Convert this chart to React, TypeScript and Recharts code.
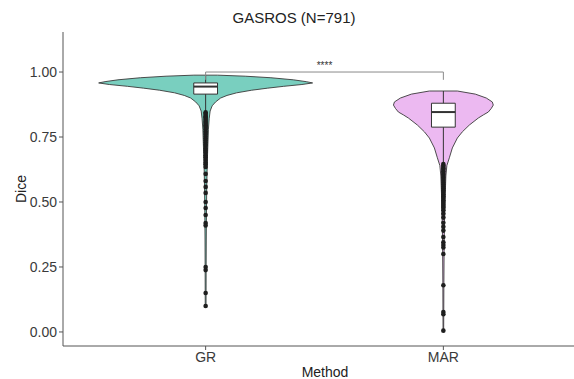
import { ScatterChart, Scatter, XAxis, YAxis } from 'recharts'

const methods = ['GR', 'MAR']
const yTicks = [0, 0.25, 0.5, 0.75, 1]

// violin outlines: Dice level and relative density (1 = widest point)
const grLevels = [0.988, 0.984, 0.978, 0.97, 0.963, 0.958, 0.952, 0.945, 0.938, 0.93, 0.92, 0.91, 0.9, 0.885, 0.87, 0.85, 0.82, 0.78, 0.72, 0.65, 0.55, 0.45, 0.35, 0.25, 0.1]
const grDensity = [0.11, 0.37, 0.61, 0.82, 0.94, 1, 0.9, 0.73, 0.58, 0.43, 0.29, 0.2, 0.14, 0.093, 0.061, 0.042, 0.033, 0.026, 0.021, 0.015, 0.01, 0.0075, 0.0056, 0.0047, 0.0037]
const marLevels = [0.927, 0.915, 0.9, 0.885, 0.873, 0.86, 0.846, 0.835, 0.823, 0.796, 0.77, 0.746, 0.708, 0.67, 0.64, 0.6, 0.5, 0.4, 0.3, 0.18, 0.07, 0.005]
const marDensity = [0.28, 0.64, 0.86, 0.98, 1, 0.96, 0.9, 0.8, 0.7, 0.52, 0.38, 0.28, 0.18, 0.12, 0.07, 0.05, 0.032, 0.02, 0.014, 0.01, 0.008, 0.006]

// box stats: lower whisker, q1, median, q3, upper whisker
const grBox = [0.85, 0.915, 0.944, 0.958, 0.988]
const marBox = [0.65, 0.788, 0.846, 0.88, 0.927]

const grOutliers = [0.845, 0.84, 0.835, 0.83, 0.826, 0.82, 0.815, 0.81, 0.805, 0.8, 0.795, 0.79, 0.785, 0.78, 0.772, 0.765, 0.76, 0.752, 0.745, 0.738, 0.73, 0.722, 0.715, 0.706, 0.698, 0.69, 0.68, 0.672, 0.662, 0.652, 0.645, 0.635, 0.608, 0.581, 0.558, 0.535, 0.5, 0.477, 0.45, 0.419, 0.41, 0.25, 0.238, 0.15, 0.1]
const marOutliers = [0.646, 0.64, 0.635, 0.63, 0.624, 0.618, 0.612, 0.606, 0.6, 0.594, 0.588, 0.582, 0.575, 0.568, 0.56, 0.553, 0.545, 0.538, 0.53, 0.522, 0.515, 0.507, 0.5, 0.492, 0.485, 0.478, 0.468, 0.455, 0.44, 0.42, 0.405, 0.39, 0.365, 0.345, 0.335, 0.325, 0.3, 0.18, 0.077, 0.068, 0.005]

const FONT = '"Liberation Sans", Arial, Helvetica, sans-serif'
const BOX_HALF = 0.05

function violin(center: number, levels: number[], density: number[], maxHalf: number) {
  const right = levels.map((y, i) => ({ x: center + density[i] * maxHalf, y })).reverse()
  const left = levels.map((y, i) => ({ x: center - density[i] * maxHalf, y }))
  return [...right, ...left]
}

function boxRect(center: number, stats: number[]) {
  const [, q1, , q3] = stats
  return [
    { x: center - BOX_HALF, y: q1 },
    { x: center + BOX_HALF, y: q1 },
    { x: center + BOX_HALF, y: q3 },
    { x: center - BOX_HALF, y: q3 },
    { x: center - BOX_HALF, y: q1 },
  ]
}

const none = () => <g />
const dot = (p: any) => <circle cx={p.cx} cy={p.cy} r={2.3} fill="#1e1e1e" />

export default function App() {
  const groups = [
    { c: 1, levels: grLevels, density: grDensity, half: 0.45, box: grBox, out: grOutliers, fill: '#79cfbf' },
    { c: 2, levels: marLevels, density: marDensity, half: 0.21, box: marBox, out: marOutliers, fill: '#ecb9f1' },
  ]
  return (
    <div style={{ position: 'absolute', left: 0, top: 0, width: 574, height: 379, overflow: 'hidden', background: '#fff', fontFamily: FONT }}>
      <div style={{ position: 'absolute', left: 294, top: 17, transform: 'translate(-50%, -50%)', fontSize: 15, color: '#222', whiteSpace: 'nowrap' }}>
        GASROS (N=791)
      </div>
      <ScatterChart width={586} height={379} margin={{ top: 32, right: 0, bottom: 0, left: 0 }}>
        <XAxis
          type="number"
          dataKey="x"
          domain={[0.4, 2.6]}
          ticks={[1, 2]}
          allowDataOverflow
          tickFormatter={v => methods[v - 1]}
          height={33}
          tickSize={4}
          axisLine={{ stroke: '#555' }}
          tickLine={{ stroke: '#555' }}
          tick={{ fontSize: 14, fill: '#3a3a3a', fontFamily: FONT }}
        />
        <YAxis
          type="number"
          dataKey="y"
          domain={[-0.054, 1.154]}
          ticks={yTicks}
          allowDataOverflow
          tickFormatter={v => v.toFixed(2)}
          width={63}
          tickSize={4}
          axisLine={{ stroke: '#555' }}
          tickLine={{ stroke: '#555' }}
          tick={{ fontSize: 14, fill: '#3a3a3a', fontFamily: FONT }}
        />
        {groups.map(g => (
          <Scatter
            key={`v${g.c}`}
            data={violin(g.c, g.levels, g.density, g.half)}
            shape={none}
            line={{ stroke: '#3a3a3a', strokeWidth: 0.9, fill: g.fill }}
            isAnimationActive={false}
          />
        ))}
        {groups.map(g => (
          <Scatter
            key={`w${g.c}`}
            data={[{ x: g.c, y: g.box[0] }, { x: g.c, y: g.box[4] }]}
            shape={none}
            line={{ stroke: '#333', strokeWidth: 1 }}
            isAnimationActive={false}
          />
        ))}
        {groups.map(g => (
          <Scatter
            key={`b${g.c}`}
            data={boxRect(g.c, g.box)}
            shape={none}
            line={{ stroke: '#333', strokeWidth: 1, fill: '#fff' }}
            isAnimationActive={false}
          />
        ))}
        {groups.map(g => (
          <Scatter
            key={`m${g.c}`}
            data={[{ x: g.c - BOX_HALF, y: g.box[2] }, { x: g.c + BOX_HALF, y: g.box[2] }]}
            shape={none}
            line={{ stroke: '#333', strokeWidth: 2 }}
            isAnimationActive={false}
          />
        ))}
        {groups.map(g => (
          <Scatter
            key={`o${g.c}`}
            data={g.out.map(y => ({ x: g.c, y }))}
            shape={dot}
            isAnimationActive={false}
          />
        ))}
        <Scatter
          data={[{ x: 1, y: 0.97 }, { x: 1, y: 1.0 }, { x: 2, y: 1.0 }, { x: 2, y: 0.97 }]}
          shape={none}
          line={{ stroke: '#8a8a8a', strokeWidth: 1 }}
          isAnimationActive={false}
        />
        <Scatter
          data={[{ x: 1.5, y: 1.012 }]}
          shape={(p: any) => (
            <text x={p.cx} y={p.cy} textAnchor="middle" fontSize={10} fill="#333" fontFamily={FONT}>
              ****
            </text>
          )}
          isAnimationActive={false}
        />
      </ScatterChart>
      <div style={{ position: 'absolute', left: 21, top: 189, transform: 'translate(-50%, -50%) rotate(-90deg)', fontSize: 14, color: '#222' }}>
        Dice
      </div>
      <div style={{ position: 'absolute', left: 325, top: 372, transform: 'translate(-50%, -50%)', fontSize: 14, color: '#222' }}>
        Method
      </div>
    </div>
  )
}
